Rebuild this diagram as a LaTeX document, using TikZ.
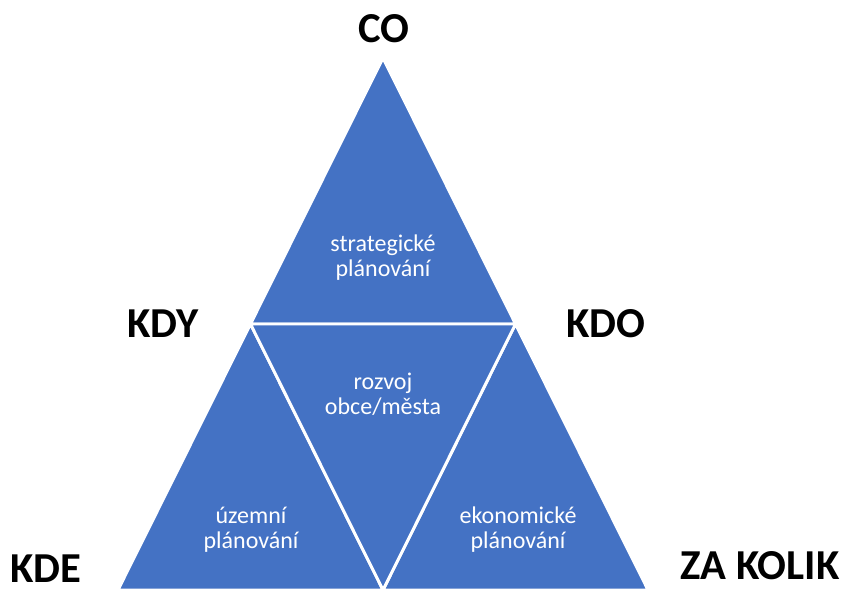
\documentclass[tikz,border=0pt]{standalone}
\usepackage{fontspec}
\setmainfont{Carlito}
\usetikzlibrary{positioning,calc}
\definecolor{accent1}{HTML}{4472C4}

\begin{document}
\begin{tikzpicture}[x=0.75pt,y=-0.75pt]
\tikzset{
  part/.style={fill=accent1, draw=white, line width=2.2pt, line join=miter},
  corner/.style={font=\bfseries\fontsize{32}{36}\selectfont, text=black, inner sep=0pt, text depth=0pt, anchor=base},
  inner/.style={font=\fontsize{18}{18.8}\selectfont, text=white, align=center, inner sep=0pt}
}
\useasboundingbox (0,0) rectangle (845,590);
\coordinate (apex) at (383,58);
\coordinate (lm) at (250.5,324);
\coordinate (rm) at (515.5,324);
\coordinate (bl) at (118,590);
\coordinate (bm) at (383,590);
\coordinate (br) at (648,590);
% four parts of the triangle
\draw[part] (apex) -- (rm) -- (lm) -- cycle;
\draw[part] (lm) -- (bm) -- (bl) -- cycle;
\draw[part] (rm) -- (br) -- (bm) -- cycle;
\draw[part] (lm) -- (rm) -- (bm) -- cycle;
\node[inner] (strat) at (383,258) {strategické\\plánování};
\node[inner] (rozvoj) at (383,394) {rozvoj\\obce/města};
\node[inner] (uzemni) at (251,530) {územní\\plánování};
\node[inner] (ekon) at (518,530) {ekonomické\\plánování};
% questions round the triangle
\node[corner] (co) at (384,42) {CO};
\node[corner] (kdy) at (163,337) {KDY};
\node[corner] (kdo) at (606,337) {KDO};
\node[corner] (kde) at (46,582) {KDE};
\node[corner] (kolik) at (760,579) {ZA KOLIK};
\end{tikzpicture}
\end{document}
